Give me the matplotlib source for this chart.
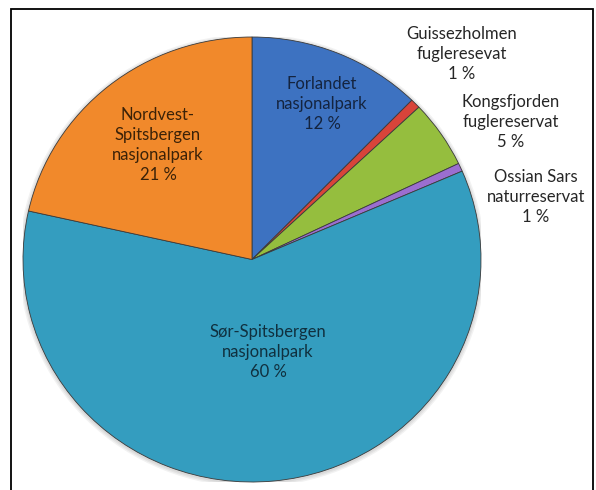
import matplotlib
matplotlib.use("Agg")
import matplotlib.pyplot as plt
from matplotlib.patches import Rectangle, Ellipse

plt.rcParams['font.family'] = ['Lato', 'DejaVu Sans']

categories = ["Forlandet\nnasjonalpark", "Guissezholmen\nfugleresevat",
              "Kongsfjorden\nfuglereservat", "Ossian Sars\nnaturreservat",
              "Sør-Spitsbergen\nnasjonalpark", "Nordvest-\nSpitsbergen\nnasjonalpark"]
values = [12.3, 0.7, 4.9, 0.6, 60.0, 21.5]
pct_labels = ["12 %", "1 %", "5 %", "1 %", "60 %", "21 %"]
colors = ["#3D72C1", "#D8443A", "#95BE3E", "#9B6ED0", "#349DBF", "#F1892B"]

W, H = 596, 490
fig = plt.figure(figsize=(W / 100, H / 100), dpi=100)
fig.patch.set_facecolor("white")

# frame
fig.patches.append(Rectangle((11 / W, -0.02), (593 - 11) / W, 1.02 - 8.5 / H,
                             transform=fig.transFigure, fill=False,
                             edgecolor="black", linewidth=1.3))

# pie axes: ellipse bounding box in pixels (x 23..481, y 37..482 from top)
x0, x1, y0, y1 = 23, 481, 37, 482
ax = fig.add_axes([x0 / W, 1 - y1 / H, (x1 - x0) / W, (y1 - y0) / H])
ax.axis("off")

# soft shadow
for i in range(3):
    ax.add_patch(Ellipse((0.0, -0.005), 2 + 0.012 * (i + 1), 2 + 0.012 * (i + 1),
                         facecolor="black", alpha=0.05, edgecolor="none", zorder=0))

wedges, _ = ax.pie(values, colors=colors, startangle=90, counterclock=False,
                   radius=1, center=(0, 0), frame=False,
                   wedgeprops=dict(edgecolor="#3a3a3a", linewidth=0.6))
for w in wedges:
    w.set_zorder(2)
ax.set_xlim(-1, 1)
ax.set_ylim(-1, 1)
ax.set_aspect("auto")

# label positions in pixel coords (center x, center y from top)
label_pos = [(322, 104), (462, 54), (511, 122), (536, 197), (268, 352), (158, 145)]
text_colors = ["#14243f", "#262626", "#262626", "#262626", "#10303f", "#3b2208"]
for cat, pct, (px, py), tc in zip(categories, pct_labels, label_pos, text_colors):
    fig.text(px / W, 1 - py / H, cat + "\n" + pct, ha="center", va="center",
             fontsize=12, color=tc, linespacing=1.3)

fig.savefig("out.png", dpi=100, facecolor="white")
